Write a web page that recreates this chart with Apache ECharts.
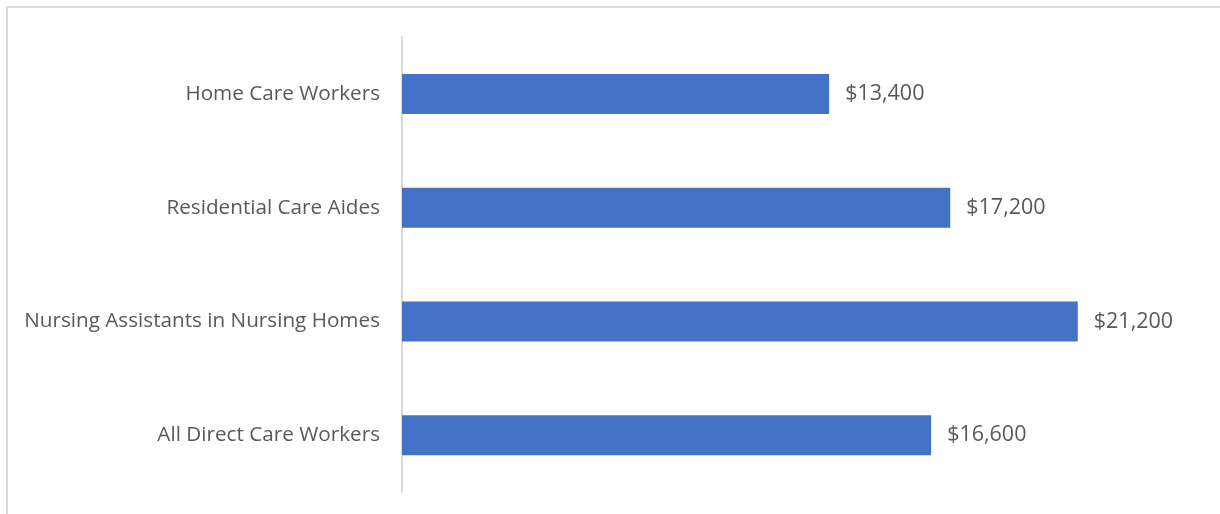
<!DOCTYPE html>
<html>
<head>
<meta charset="utf-8">
<script src="https://cdn.jsdelivr.net/npm/echarts@6/dist/echarts.min.js"></script>
<style>
  html, body { margin: 0; padding: 0; background: #fff; }
  #chart { width: 1220px; height: 514px; }
</style>
</head>
<body>
<div id="chart"></div>
<script>
// Worker groups, listed bottom to top as the category axis draws them
const categories = [
  'All Direct Care Workers',
  'Nursing Assistants in Nursing Homes',
  'Residential Care Aides',
  'Home Care Workers'
];
const earnings = [16600, 21200, 17200, 13400];

const fontFamily = '"Open Sans", "Liberation Sans", sans-serif';
const textColor = '#595959';

const chart = echarts.init(document.getElementById('chart'), null, { renderer: 'canvas' });

chart.setOption({
  animation: false,
  backgroundColor: '#ffffff',
  graphic: [{
    type: 'rect',
    shape: { x: 7, y: 7, width: 1300, height: 600 },
    style: { fill: 'none', stroke: '#d9d9d9', lineWidth: 2 },
    silent: true
  }],
  grid: { left: 402, top: 37, width: 765, height: 455, containLabel: false },
  xAxis: {
    type: 'value',
    min: 0,
    max: 24000,
    show: false
  },
  yAxis: {
    type: 'category',
    data: categories,
    axisLine: { show: true, lineStyle: { color: '#d9d9d9', width: 2 } },
    axisTick: { show: false },
    axisLabel: {
      color: textColor,
      fontFamily: fontFamily,
      fontSize: 20.7,
      margin: 22
    },
    splitLine: { show: false }
  },
  series: [{
    type: 'bar',
    data: earnings,
    barWidth: 40,
    itemStyle: { color: '#4472c4' },
    label: {
      show: true,
      position: 'right',
      distance: 16,
      color: textColor,
      fontFamily: fontFamily,
      fontSize: 21.5,
      formatter: p => '$' + p.value.toLocaleString('en-US')
    }
  }]
});
</script>
</body>
</html>
